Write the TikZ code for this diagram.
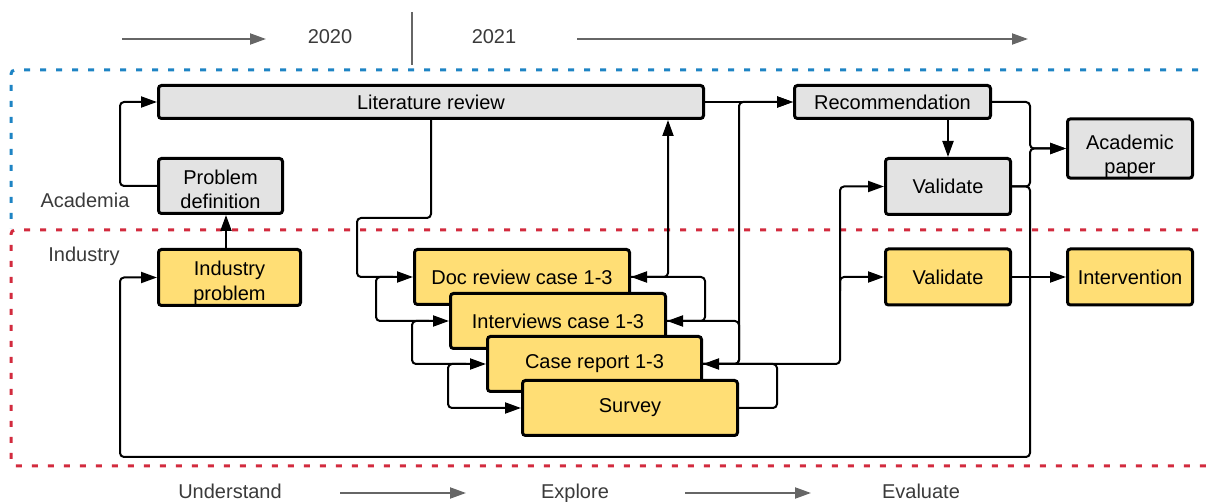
\documentclass[tikz,border=0pt]{standalone}
\usepackage{fontspec}
\setmainfont{Liberation Sans}
\usetikzlibrary{arrows.meta}
\definecolor{boxgray}{HTML}{E3E3E3}
\definecolor{boxyellow}{HTML}{FFDE75}
\definecolor{zoneblue}{HTML}{1E84C4}
\definecolor{zonered}{HTML}{D22B3E}
\definecolor{labelgray}{HTML}{3A3A3A}
\definecolor{linegray}{HTML}{666666}
\begin{document}
\begin{tikzpicture}[x=1pt,y=-1pt,
  box/.style={draw=black, line width=3pt, rounded corners=3pt, inner sep=0pt, align=center,
    font=\fontsize{20}{24.5}\selectfont, text=black},
  gbox/.style={box, fill=boxgray},
  ybox/.style={box, fill=boxyellow},
  conn/.style={draw=black, line width=2pt, rounded corners=4pt, -{Triangle[length=16pt,width=11pt]}},
  tl/.style={draw=linegray, line width=2pt, -{Triangle[length=16pt,width=11pt]}},
  tlplain/.style={draw=linegray, line width=2pt},
  lbl/.style={text=labelgray, font=\fontsize{20}{24}\selectfont, inner sep=0pt, anchor=base},
  zone/.style={line width=3pt, dash pattern=on 6pt off 10pt, rounded corners=4pt}
]
\useasboundingbox (0,0) rectangle (1208,502);

% zones
\begin{scope}
\clip (0,0) rectangle (1208,502);
\draw[zone, draw=zoneblue] (1230,70) -- (11,70) -- (11,229);
\draw[zone, draw=zonered] (1230,230) -- (11,230) -- (11,466) -- (1230,466);
\end{scope}

% timeline
\coordinate (t1s) at (122,39); \coordinate (t1e) at (266,39);
\coordinate (t2s) at (577,39); \coordinate (t2e) at (1028,39);
\coordinate (vt) at (412,12); \coordinate (vb) at (412,65);
\draw[tl] (t1s) -- (t1e);
\draw[tl] (t2s) -- (t2e);
\draw[tlplain] (vt) -- (vb);
\node[lbl] (y20) at (330,44) {2020};
\node[lbl] (y21) at (494,44) {2021};

% phases
\coordinate (p1s) at (340,493); \coordinate (p1e) at (466,493);
\coordinate (p2s) at (685,493); \coordinate (p2e) at (811,493);
\draw[tl] (p1s) -- (p1e);
\draw[tl] (p2s) -- (p2e);
\node[lbl] (und) at (230,499) {Understand};
\node[lbl] (exp) at (575,499) {Explore};
\node[lbl] (eva) at (921,499) {Evaluate};

% zone labels
\node[lbl] (aca) at (85,208) {Academia};
\node[lbl] (ind) at (84,262) {Industry};

% boxes
\node[gbox, minimum width=545pt, minimum height=33pt] (lit) at (431,102) {Literature review};
\node[gbox, minimum width=196pt, minimum height=33pt] (rec) at (892.5,102) {Recommendation};
\node[gbox, minimum width=124pt, minimum height=55pt] (pd) at (220.5,186) {\rule{0pt}{21.6pt}Problem\\definition};
\node[ybox, minimum width=142pt, minimum height=56pt] (ip) at (229.5,277.5) {\rule{0pt}{25.6pt}Industry\\problem};
\node[gbox, minimum width=125pt, minimum height=56pt] (valg) at (948,186.5) {Validate};
\node[gbox, minimum width=125pt, minimum height=52pt] (ap) at (1130,148.5) {\rule{0pt}{30.6pt}Academic\\paper};
\node[ybox, minimum width=125pt, minimum height=56pt] (valy) at (948,277) {Validate};
\node[ybox, minimum width=125pt, minimum height=56pt] (intr) at (1130,277) {Intervention};
\node[ybox, minimum width=215pt, minimum height=55pt] (doc) at (522,277) {Doc review case 1-3};
\node[ybox, minimum width=215pt, minimum height=55pt] (intv) at (558,321) {Interviews case 1-3};
\node[ybox, minimum width=214pt, minimum height=55pt] (case) at (594.5,364) {Case report 1-3};
\node[ybox, minimum width=215pt, minimum height=55pt] (surv) at (630,408) {Survey};

% left side connectors
\coordinate (pdL) at ([xshift=-37pt]pd.west);
\draw[conn] (pd.west) -- (pdL) |- (lit.west);
\coordinate (a1) at ([xshift=5.5pt]pd.south);
\draw[conn] (a1 |- ip.north) -- (a1);

\coordinate (l1) at ([yshift=-98pt]lit.south);
\coordinate (d0) at ([xshift=-56pt]doc.west);
\draw[conn] (lit.south) -- (l1) -| (d0) -- (doc.west);
\coordinate (d1) at ([xshift=-20pt]doc.west);
\coordinate (d2) at ([xshift=-37pt]doc.west);
\draw[conn] (d1) -- (d2) |- (intv.west);
\coordinate (i1) at ([xshift=-20pt]intv.west);
\coordinate (i2) at ([xshift=-37pt]intv.west);
\draw[conn] (i1) -- (i2) |- (case.west);
\coordinate (c1) at ([xshift=-20pt]case.west);
\coordinate (c2) at ([xshift=-38pt]case.west);
\draw[conn] (c1) -- (c2) |- (surv.west);

% right side of stack
\coordinate (dR) at ([xshift=37pt]doc.east);
\draw[conn] (doc.east) -- (dR) -- (dR |- lit.south);
\draw[conn] (intv.east) -- ++(38,0) |- (doc.east);
\draw[conn] (case.east) -- ++(36,0) |- (intv.east);
\draw[conn] (surv.east) -- ++(38,0) |- (case.east);
\coordinate (cR) at ([xshift=36pt]case.east);
\draw[conn] (case.east) -- (cR) |- (rec.west);
\draw[conn] (lit.east) -- (rec.west);
\coordinate (cV) at ([xshift=137pt]case.east);
\draw[conn] (case.east) -- (cV) |- (valg.west);
\coordinate (cY) at (cV |- valy.west);
\draw[conn] ([yshift=-14pt]cY) -- (cY) -- (valy.west);

% evaluate part
\coordinate (vA) at (valg.north |- rec.south);
\draw[conn] (vA) -- (valg.north);
\draw[conn] (rec.east) -- ++(38,0) |- (ap.west);
\coordinate (vR) at ([xshift=18pt]valg.east);
\draw[conn] (valg.east) -- (vR) |- (ap.west);
\coordinate (bot) at ([yshift=-270.5pt]vR);
\coordinate (ipL) at ([xshift=-37pt]ip.west);
\draw[conn] (valg.east) -- (vR) -- (bot) -| (ipL) -- (ip.west);
\draw[conn] (valy.east) -- (intr.west);
\end{tikzpicture}
\end{document}
